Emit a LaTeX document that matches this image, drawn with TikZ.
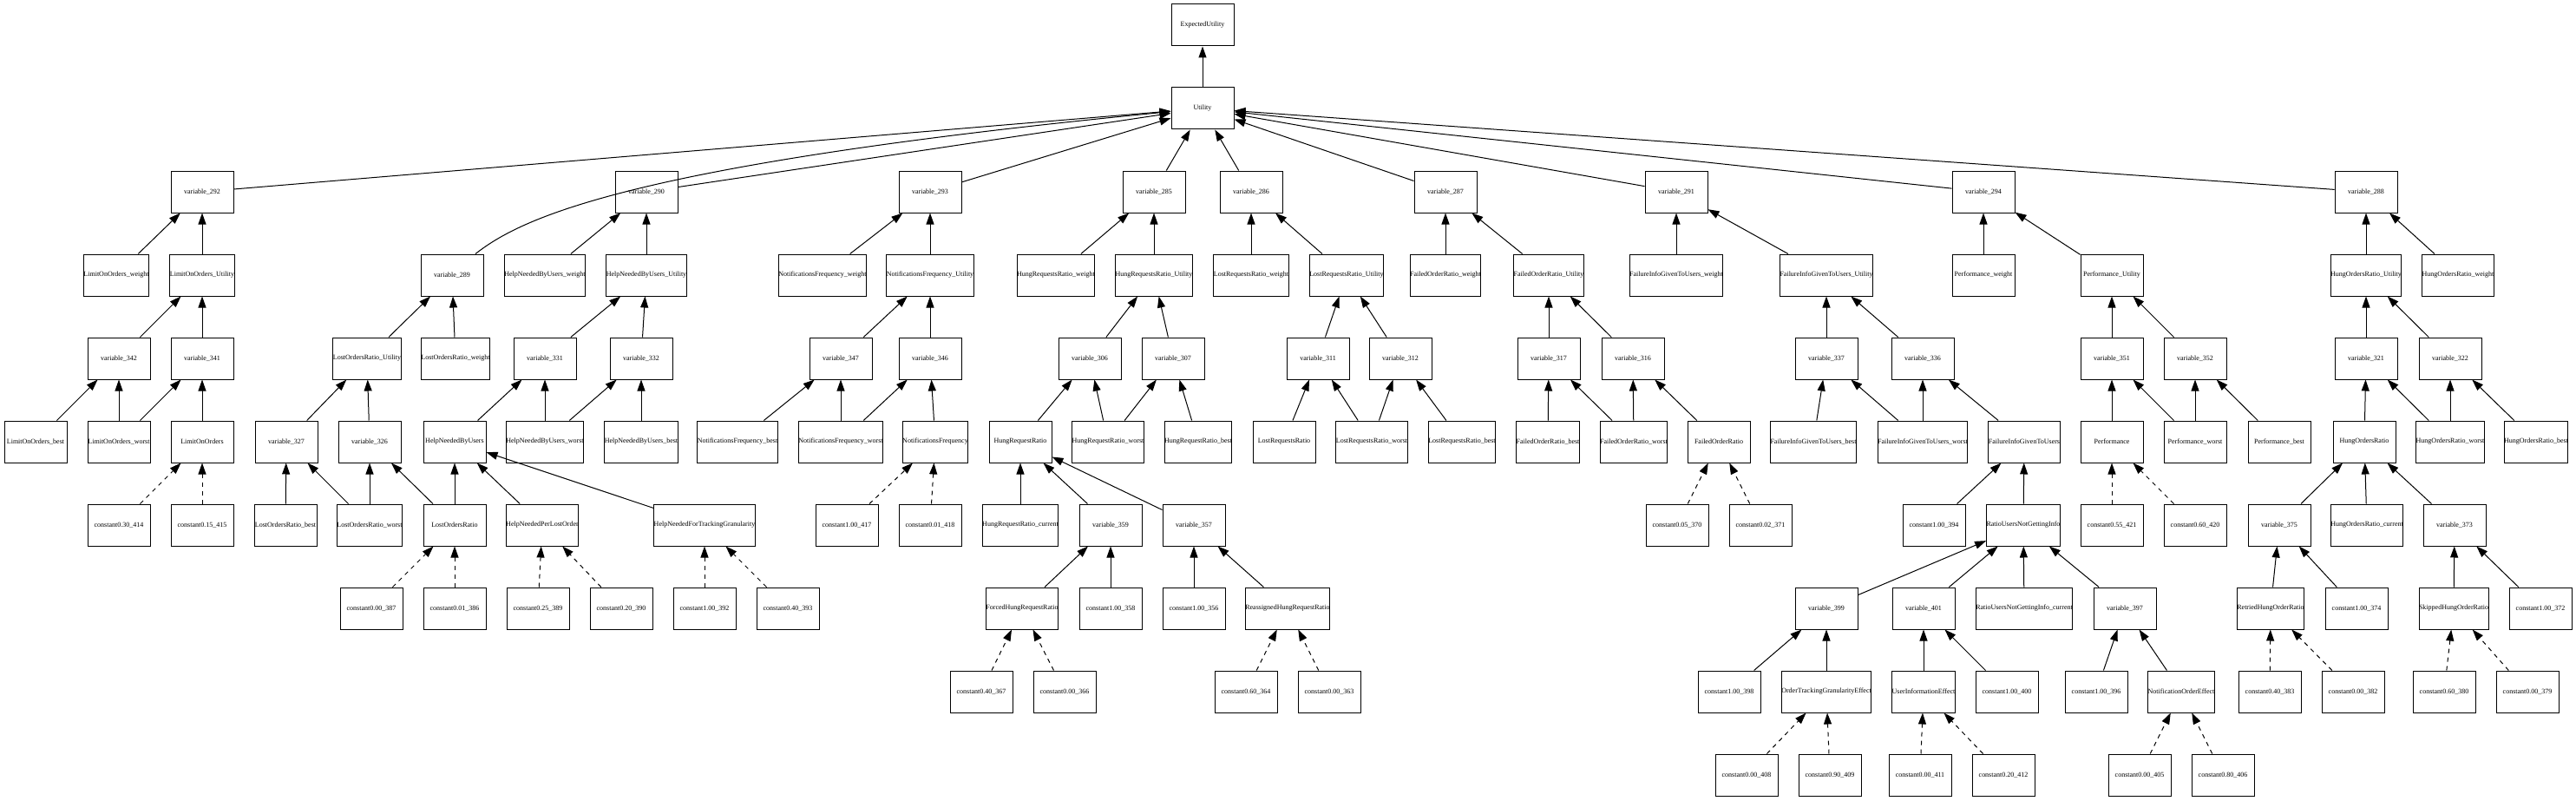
\documentclass[tikz,border=0pt]{standalone}
\usepackage{fontspec}
\setmainfont{Liberation Serif}
\usetikzlibrary{arrows.meta,calc}

\begin{document}
\begin{tikzpicture}[x=1pt,y=-96pt,
    box/.style={draw,line width=1pt,minimum width=72pt,minimum height=48pt,inner xsep=0pt,font=\fontsize{8}{9}\selectfont},
    edge/.style={line width=1pt,-{Triangle[length=13pt,width=9pt]}},
    dashededge/.style={edge,dash pattern=on 5pt off 5pt}]

    \useasboundingbox (0,-0.3021) rectangle (2969,9.3125);

    % x in pixels, y in rows
    \node[box] (ExpectedUtility) at (1386,0) {ExpectedUtility};
    \node[box] (Utility) at (1386,1) {Utility};

    \foreach \n/\x/\r in {292/233/2, 290/745/2, 293/1072/2, 285/1330/2, 286/1442/2,
        287/1666/2, 291/1932/2, 294/2286/2, 288/2727/2, 289/521/3,
        342/137/4, 341/233/4, 331/628/4, 332/739/4, 347/969/4, 346/1072/4,
        306/1256/4, 307/1352/4, 311/1519/4, 312/1614/4, 317/1785/4, 316/1882/4,
        337/2105/4, 336/2216/4, 351/2434/4, 352/2530/4, 321/2727/4, 322/2824/4,
        327/330/5, 326/426/5, 359/1280/6, 357/1376/6, 375/2627/6, 373/2829/6,
        399/2105/7, 401/2217/7, 397/2449/7}
       {\node[box] (v\n) at (\x,\r) {variable\_\n};}

    \foreach \n/\v/\x/\r in {414/0.30/137/6, 415/0.15/233/6, 417/1.00/976/6, 418/0.01/1072/6,
        370/0.05/1933/6, 371/0.02/2029/6, 394/1.00/2229/6, 421/0.55/2434/6, 420/0.60/2530/6,
        387/0.00/428/7, 386/0.01/524/7, 389/0.25/620/7, 390/0.20/716/7, 392/1.00/812/7,
        393/0.40/908/7, 358/1.00/1280/7, 356/1.00/1376/7, 374/1.00/2716/7, 372/1.00/2928/7,
        367/0.40/1131/8, 366/0.00/1227/8, 364/0.60/1436/8, 363/0.00/1532/8, 398/1.00/1993/8,
        400/1.00/2313/8, 396/1.00/2416/8, 383/0.40/2616/8, 382/0.00/2712/8, 380/0.60/2817/8,
        379/0.00/2913/8, 408/0.00/2013/9, 409/0.90/2109/9, 411/0.00/2213/9, 412/0.20/2309/9,
        405/0.00/2466/9, 406/0.80/2562/9}
       {\node[box] (c\n) at (\x,\r) {constant\v\_\n};}

    \foreach \nm/\x/\r/\txt in {
        LimitOnOrdersWeight/134/3/LimitOnOrders\_weight,
        LimitOnOrdersUtility/233/3/LimitOnOrders\_Utility,
        HelpNeededByUsersWeight/628/3/HelpNeededByUsers\_weight,
        HelpNeededByUsersUtility/745/3/HelpNeededByUsers\_Utility,
        NotificationsFrequencyWeight/948/3/NotificationsFrequency\_weight,
        NotificationsFrequencyUtility/1072/3/NotificationsFrequency\_Utility,
        HungRequestsRatioWeight/1217/3/HungRequestsRatio\_weight,
        HungRequestsRatioUtility/1330/3/HungRequestsRatio\_Utility,
        LostRequestsRatioWeight/1442/3/LostRequestsRatio\_weight,
        LostRequestsRatioUtility/1552/3/LostRequestsRatio\_Utility,
        FailedOrderRatioWeight/1666/3/FailedOrderRatio\_weight,
        FailedOrderRatioUtility/1785/3/FailedOrderRatio\_Utility,
        FailureInfoGivenToUsersWeight/1932/3/FailureInfoGivenToUsers\_weight,
        FailureInfoGivenToUsersUtility/2105/3/FailureInfoGivenToUsers\_Utility,
        PerformanceWeight/2286/3/Performance\_weight,
        PerformanceUtility/2434/3/Performance\_Utility,
        HungOrdersRatioUtility/2727/3/HungOrdersRatio\_Utility,
        HungOrdersRatioWeight/2833/3/HungOrdersRatio\_weight,
        LostOrdersRatioUtility/423/4/LostOrdersRatio\_Utility,
        LostOrdersRatioWeight/525/4/LostOrdersRatio\_weight,
        LimitOnOrdersBest/41/5/LimitOnOrders\_best,
        LimitOnOrdersWorst/137/5/LimitOnOrders\_worst,
        LimitOnOrders/233/5/LimitOnOrders,
        HelpNeededByUsers/524/5/HelpNeededByUsers,
        HelpNeededByUsersWorst/628/5/HelpNeededByUsers\_worst,
        HelpNeededByUsersBest/739/5/HelpNeededByUsers\_best,
        NotificationsFrequencyBest/850/5/NotificationsFrequency\_best,
        NotificationsFrequencyWorst/969/5/NotificationsFrequency\_worst,
        NotificationsFrequency/1078/5/NotificationsFrequency,
        HungRequestRatio/1176/5/HungRequestRatio,
        HungRequestRatioWorst/1277/5/HungRequestRatio\_worst,
        HungRequestRatioBest/1381/5/HungRequestRatio\_best,
        LostRequestsRatio/1480/5/LostRequestsRatio,
        LostRequestsRatioWorst/1581/5/LostRequestsRatio\_worst,
        LostRequestsRatioBest/1685/5/LostRequestsRatio\_best,
        FailedOrderRatioBest/1784/5/FailedOrderRatio\_best,
        FailedOrderRatioWorst/1883/5/FailedOrderRatio\_worst,
        FailedOrderRatio/1981/5/FailedOrderRatio,
        FailureInfoGivenToUsersBest/2090/5/FailureInfoGivenToUsers\_best,
        FailureInfoGivenToUsersWorst/2216/5/FailureInfoGivenToUsers\_worst,
        FailureInfoGivenToUsers/2333/5/FailureInfoGivenToUsers,
        Performance/2434/5/Performance,
        PerformanceWorst/2530/5/Performance\_worst,
        PerformanceBest/2627/5/Performance\_best,
        HungOrdersRatio/2725/5/HungOrdersRatio,
        HungOrdersRatioWorst/2824/5/HungOrdersRatio\_worst,
        HungOrdersRatioBest/2923/5/HungOrdersRatio\_best,
        LostOrdersRatioBest/329/6/LostOrdersRatio\_best,
        LostOrdersRatioWorst/426/6/LostOrdersRatio\_worst,
        LostOrdersRatio/524/6/LostOrdersRatio,
        HelpNeededPerLostOrder/625/6/HelpNeededPerLostOrder,
        HelpNeededForTrackingGranularity/812/6/HelpNeededForTrackingGranularity,
        HungRequestRatioCurrent/1176/6/HungRequestRatio\_current,
        RatioUsersNotGettingInfo/2332/6/RatioUsersNotGettingInfo,
        HungOrdersRatioCurrent/2728/6/HungOrdersRatio\_current,
        ForcedHungRequestRatio/1178/7/ForcedHungRequestRatio,
        ReassignedHungRequestRatio/1484/7/ReassignedHungRequestRatio,
        RatioUsersNotGettingInfoCurrent/2333/7/RatioUsersNotGettingInfo\_current,
        RetriedHungOrderRatio/2617/7/RetriedHungOrderRatio,
        SkippedHungOrderRatio/2828/7/SkippedHungOrderRatio,
        OrderTrackingGranularityEffect/2105/8/OrderTrackingGranularityEffect,
        UserInformationEffect/2217/8/UserInformationEffect,
        NotificationOrderEffect/2514/8/NotificationOrderEffect}
       {\node[box] (\nm) at (\x,\r) {\txt};}

    % child -> parent
    \foreach \a/\b in {Utility/ExpectedUtility,
        v292/Utility, v290/Utility, v293/Utility, v285/Utility, v286/Utility,
        v287/Utility, v291/Utility, v294/Utility, v288/Utility,
        LimitOnOrdersWeight/v292, LimitOnOrdersUtility/v292,
        v342/LimitOnOrdersUtility, v341/LimitOnOrdersUtility,
        LimitOnOrdersBest/v342, LimitOnOrdersWorst/v342, LimitOnOrdersWorst/v341, LimitOnOrders/v341,
        LostOrdersRatioUtility/v289, LostOrdersRatioWeight/v289,
        v327/LostOrdersRatioUtility, v326/LostOrdersRatioUtility,
        LostOrdersRatioBest/v327, LostOrdersRatioWorst/v327, LostOrdersRatioWorst/v326, LostOrdersRatio/v326,
        HelpNeededByUsersWeight/v290, HelpNeededByUsersUtility/v290,
        v331/HelpNeededByUsersUtility, v332/HelpNeededByUsersUtility,
        HelpNeededByUsers/v331, HelpNeededByUsersWorst/v331, HelpNeededByUsersWorst/v332, HelpNeededByUsersBest/v332,
        LostOrdersRatio/HelpNeededByUsers, HelpNeededPerLostOrder/HelpNeededByUsers,
        HelpNeededForTrackingGranularity/HelpNeededByUsers,
        NotificationsFrequencyWeight/v293, NotificationsFrequencyUtility/v293,
        v347/NotificationsFrequencyUtility, v346/NotificationsFrequencyUtility,
        NotificationsFrequencyBest/v347, NotificationsFrequencyWorst/v347,
        NotificationsFrequencyWorst/v346, NotificationsFrequency/v346,
        HungRequestsRatioWeight/v285, HungRequestsRatioUtility/v285,
        v306/HungRequestsRatioUtility, v307/HungRequestsRatioUtility,
        HungRequestRatio/v306, HungRequestRatioWorst/v306, HungRequestRatioWorst/v307, HungRequestRatioBest/v307,
        HungRequestRatioCurrent/HungRequestRatio, v359/HungRequestRatio, v357/HungRequestRatio,
        ForcedHungRequestRatio/v359, c358/v359, c356/v357, ReassignedHungRequestRatio/v357,
        LostRequestsRatioWeight/v286, LostRequestsRatioUtility/v286,
        v311/LostRequestsRatioUtility, v312/LostRequestsRatioUtility,
        LostRequestsRatio/v311, LostRequestsRatioWorst/v311, LostRequestsRatioWorst/v312, LostRequestsRatioBest/v312,
        FailedOrderRatioWeight/v287, FailedOrderRatioUtility/v287,
        v317/FailedOrderRatioUtility, v316/FailedOrderRatioUtility,
        FailedOrderRatioBest/v317, FailedOrderRatioWorst/v317, FailedOrderRatioWorst/v316, FailedOrderRatio/v316,
        FailureInfoGivenToUsersWeight/v291, FailureInfoGivenToUsersUtility/v291,
        v337/FailureInfoGivenToUsersUtility, v336/FailureInfoGivenToUsersUtility,
        FailureInfoGivenToUsersBest/v337, FailureInfoGivenToUsersWorst/v337,
        FailureInfoGivenToUsersWorst/v336, FailureInfoGivenToUsers/v336,
        c394/FailureInfoGivenToUsers, RatioUsersNotGettingInfo/FailureInfoGivenToUsers,
        v399/RatioUsersNotGettingInfo, v401/RatioUsersNotGettingInfo,
        RatioUsersNotGettingInfoCurrent/RatioUsersNotGettingInfo, v397/RatioUsersNotGettingInfo,
        c398/v399, OrderTrackingGranularityEffect/v399, UserInformationEffect/v401, c400/v401,
        c396/v397, NotificationOrderEffect/v397,
        PerformanceWeight/v294, PerformanceUtility/v294,
        v351/PerformanceUtility, v352/PerformanceUtility,
        Performance/v351, PerformanceWorst/v351, PerformanceWorst/v352, PerformanceBest/v352,
        HungOrdersRatioUtility/v288, HungOrdersRatioWeight/v288,
        v321/HungOrdersRatioUtility, v322/HungOrdersRatioUtility,
        HungOrdersRatio/v321, HungOrdersRatioWorst/v321, HungOrdersRatioWorst/v322, HungOrdersRatioBest/v322,
        v375/HungOrdersRatio, HungOrdersRatioCurrent/HungOrdersRatio, v373/HungOrdersRatio,
        RetriedHungOrderRatio/v375, c374/v375, SkippedHungOrderRatio/v373, c372/v373}
       \draw[edge] (\a) -- (\b);

    \foreach \a/\b in {c414/LimitOnOrders, c415/LimitOnOrders, c387/LostOrdersRatio, c386/LostOrdersRatio,
        c389/HelpNeededPerLostOrder, c390/HelpNeededPerLostOrder,
        c392/HelpNeededForTrackingGranularity, c393/HelpNeededForTrackingGranularity,
        c417/NotificationsFrequency, c418/NotificationsFrequency,
        c367/ForcedHungRequestRatio, c366/ForcedHungRequestRatio,
        c364/ReassignedHungRequestRatio, c363/ReassignedHungRequestRatio,
        c370/FailedOrderRatio, c371/FailedOrderRatio, c421/Performance, c420/Performance,
        c383/RetriedHungOrderRatio, c382/RetriedHungOrderRatio,
        c380/SkippedHungOrderRatio, c379/SkippedHungOrderRatio,
        c408/OrderTrackingGranularityEffect, c409/OrderTrackingGranularityEffect,
        c411/UserInformationEffect, c412/UserInformationEffect,
        c405/NotificationOrderEffect, c406/NotificationOrderEffect}
       \draw[dashededge] (\a) -- (\b);

    \draw[edge] ($(v289.north)+(27,0)$) .. controls (600,2.323) and (720,1.677) .. (Utility);

\end{tikzpicture}
\end{document}
